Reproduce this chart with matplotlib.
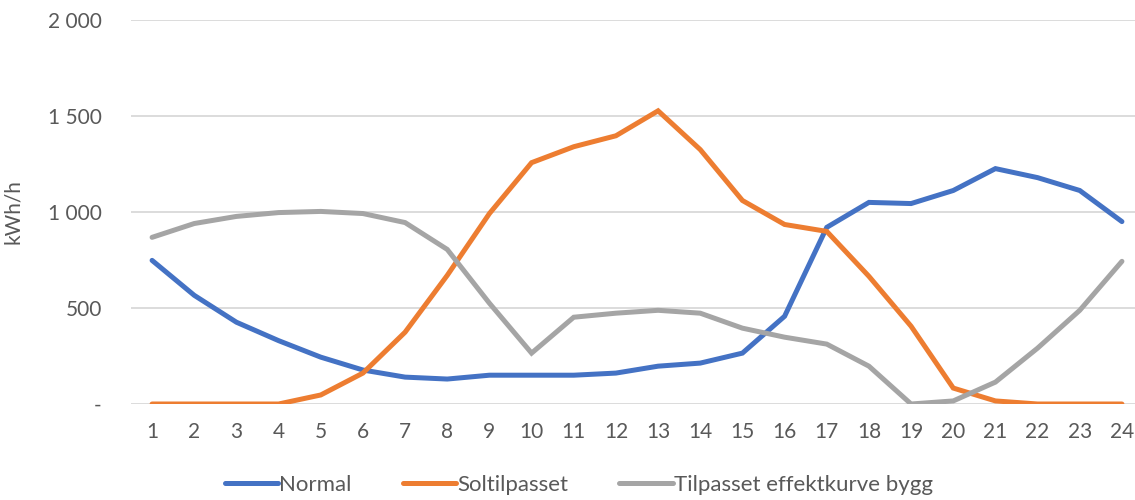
import matplotlib.pyplot as plt
from matplotlib.ticker import FuncFormatter

hours = list(range(1, 25))
normal = [748, 566, 426, 330, 244, 177, 140, 130, 150, 150, 150, 161,
          197, 213, 265, 457, 920, 1050, 1044, 1112, 1226, 1179, 1112, 950]
soltilpasset = [0, 0, 0, 0, 47, 161, 374, 670, 992, 1257, 1340, 1397,
                1527, 1325, 1060, 935, 899, 665, 405, 83, 16, 0, 0, 0]
tilpasset = [868, 940, 977, 997, 1003, 992, 945, 805, 525, 265, 452, 473,
             488, 473, 395, 348, 312, 197, 0, 16, 114, 291, 488, 743]
series_names = ["Normal", "Soltilpasset", "Tilpasset effektkurve bygg"]
colors = ["#4472C4", "#ED7D31", "#A5A5A5"]
y_ticks = [0, 500, 1000, 1500, 2000]

plt.rcParams['font.family'] = ['Lato', 'DejaVu Sans']
text_color = "#595959"

fig = plt.figure(figsize=(11.35, 5.0), dpi=100)
ax = fig.add_axes([131 / 1135, 96 / 500, 1004 / 1135, 384 / 500])

for vals, name, c in zip([normal, soltilpasset, tilpasset], series_names, colors):
    ax.plot(hours, vals, color=c, lw=3.6, label=name,
            solid_joinstyle='miter', solid_capstyle='round')

ax.set_xlim(0.5, 24.31)
ax.set_ylim(0, 2000)
ax.set_xticks(hours)
ax.set_yticks(y_ticks)


def fmt(v, _):
    if v == 0:
        return "-"
    return f"{int(v):,}".replace(",", " ")


ax.yaxis.set_major_formatter(FuncFormatter(fmt))
ax.grid(axis='y', color="#D9D9D9", lw=1.3)
ax.set_axisbelow(True)
for s in ax.spines.values():
    s.set_visible(False)
ax.tick_params(axis='both', length=0, labelsize=15, labelcolor=text_color)
ax.tick_params(axis='y', pad=21)
ax.tick_params(axis='x', pad=13)
ax.set_ylabel("kWh/h", fontsize=15, color=text_color, labelpad=4)
ax.yaxis.set_label_coords(-108 / 1004, 0.5)

leg = fig.legend(loc='lower center', bbox_to_anchor=(0.51, -0.03), ncol=3,
                 frameon=False, fontsize=16, handlelength=2.4,
                 handletextpad=0.05, columnspacing=2.3)
for t in leg.get_texts():
    t.set_color(text_color)

fig.savefig("out.png", dpi=100)
